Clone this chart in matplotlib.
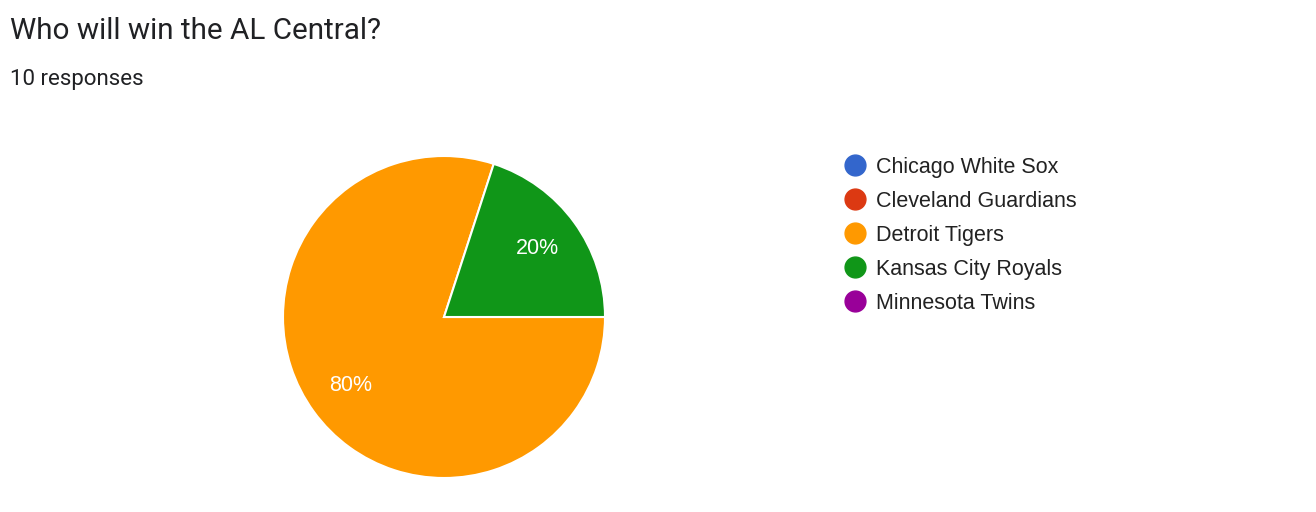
import matplotlib.pyplot as plt
from matplotlib.lines import Line2D

title = "Who will win the AL Central?"
subtitle = "10 responses"
teams = ["Chicago White Sox", "Cleveland Guardians", "Detroit Tigers",
         "Kansas City Royals", "Minnesota Twins"]
votes = [0, 0, 8, 2, 0]
colors = ["#3366cc", "#dc3912", "#ff9900", "#109618", "#990099"]

W, H = 1316, 512
fig = plt.figure(figsize=(W / 100, H / 100), dpi=100)

# pie centre ~ (444, 317) px, radius ~161 px
cx, cy, r = 444, 317, 161
ax = fig.add_axes([(cx - r) / W, (H - cy - r) / H, 2 * r / W, 2 * r / H])

shown = [(v, c) for v, c in zip(votes, colors) if v > 0]
wedges, texts, autotexts = ax.pie(
    [v for v, c in shown], colors=[c for v, c in shown],
    startangle=72, counterclock=True, autopct="%1.0f%%", pctdistance=0.72,
    wedgeprops=dict(edgecolor="white", linewidth=1.5),
    textprops=dict(color="white", fontsize=15.5, family="Liberation Sans"))
ax.set_xlim(-1, 1)
ax.set_ylim(-1, 1)

fig.text(10 / W, 1 - 31 / H, title, fontsize=21.3, family="Roboto",
         color="#202124", va="center")
fig.text(10 / W, 1 - 80 / H, subtitle, fontsize=16, family="Roboto",
         color="#202124", va="center")

handles = [Line2D([], [], marker="o", linestyle="none", markersize=15,
                  markerfacecolor=c, markeredgecolor=c) for c in colors]
leg = fig.legend(handles, teams, loc="upper left",
                 bbox_to_anchor=(844 / W, 1 - 157 / H), frameon=False,
                 prop=dict(family="Liberation Sans", size=15.5),
                 labelspacing=0.6, handlelength=1.0, handletextpad=0.48,
                 borderpad=0, borderaxespad=0)
for t in leg.get_texts():
    t.set_color("#222222")

fig.savefig("out.png", dpi=100)
